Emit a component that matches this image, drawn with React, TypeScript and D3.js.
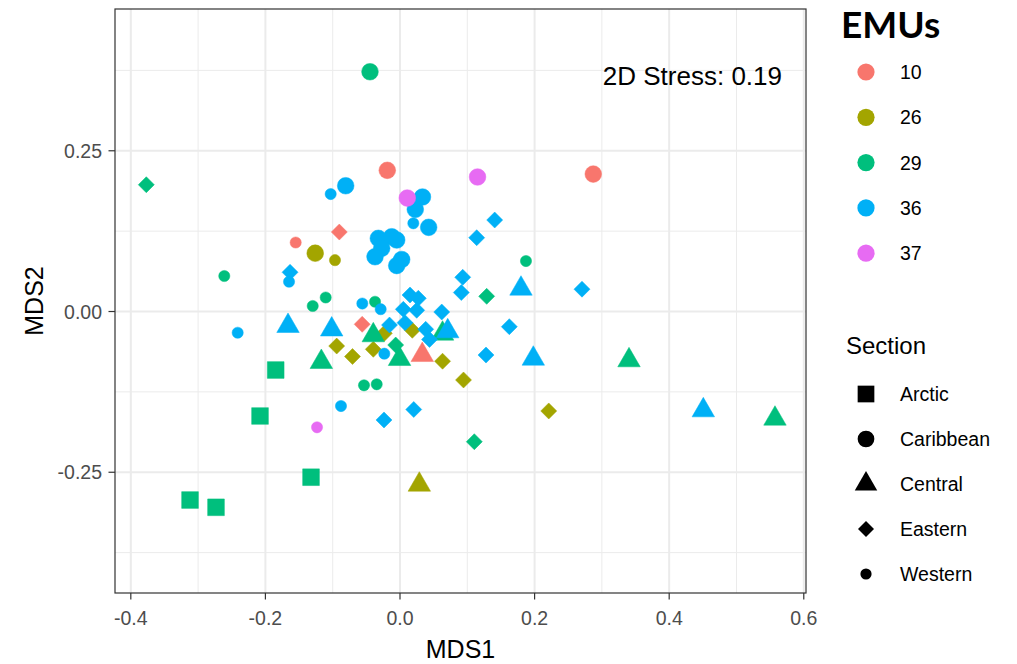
import React from "react";
import * as d3 from "d3";

// EMU levels and ggplot default hue colours
const emuLevels = ["10", "26", "29", "36", "37"];
const emuColors = ["#F8766D", "#A3A500", "#00BF7D", "#00B0F6", "#E76BF3"];
const sectionLevels = ["Arctic", "Caribbean", "Central", "Eastern", "Western"];

const xTicks = [-0.4, -0.2, 0.0, 0.2, 0.4, 0.6];
const yTicks = [-0.25, 0.0, 0.25];
const xMinor = [-0.3, -0.1, 0.1, 0.3, 0.5];
const yMinor = [-0.375, -0.125, 0.125, 0.375];

// NMDS scores
const mds1 = [
  // Arctic
  -0.1847, -0.208, -0.1322, -0.312, -0.2734,
  // Caribbean
  -0.0446, -0.0189, -0.0807, 0.0108, 0.0334, 0.0227, 0.0426, -0.126, 0.1152, 0.2872,
  -0.0322, -0.0123, -0.0049, -0.0272, -0.0371, 0.0025, -0.0049,
  // Central
  -0.1664, -0.1015, -0.0397, -0.1169, -0.0007, 0.0331, 0.0632, 0.0709, 0.1798, 0.1981,
  0.3403, 0.4507, 0.5572, 0.0287,
  // Eastern
  -0.377, -0.0902, -0.1634, 0.114, 0.1407, 0.0932, 0.0911, 0.1288, 0.2704, 0.0149,
  0.0272, 0.0049, 0.0248, 0.062, 0.0074, -0.0156, -0.0562, -0.0233, 0.0183, 0.0382,
  0.0438, 0.1624, -0.0941, -0.0706, -0.0397, -0.0064, 0.0632, 0.1278, 0.0944, 0.221,
  0.0204, -0.0238, 0.1104,
  // Western
  -0.103, 0.0198, -0.155, -0.0966, -0.2611, -0.1649, -0.1104, -0.1297, -0.056, -0.0371,
  -0.0287, -0.2412, -0.0233, -0.0535, -0.0346, -0.0877, -0.1233, 0.1872,
];

const mds2 = [
  -0.091, -0.1625, -0.2577, -0.2932, -0.3045,
  0.3729, 0.2196, 0.1956, 0.1765, 0.1781, 0.1589, 0.1309, 0.0907, 0.2092, 0.2138,
  0.1138, 0.1163, 0.1112, 0.0983, 0.0852, 0.0809, 0.0715,
  -0.0225, -0.028, -0.037, -0.0785, -0.0739, -0.0677, -0.0345, -0.0308, 0.0355, -0.0734,
  -0.0759, -0.1537, -0.1667, -0.2694,
  0.1972, 0.1236, 0.061, 0.1148, 0.1423, 0.0532, 0.0295, 0.0236, 0.0347, 0.0257,
  0.0205, 0.0034, 0.0019, -0.0008, -0.0174, -0.021, -0.0199, -0.0339, -0.0292, -0.0277,
  -0.0435, -0.0236, -0.0537, -0.07, -0.0588, -0.0521, -0.0773, -0.0677, -0.1065, -0.1547,
  -0.1524, -0.1687, -0.2025,
  0.1827, 0.1372, 0.1073, 0.0798, 0.0552, 0.0463, 0.0218, 0.0086, 0.0124, 0.0152,
  0.0036, -0.033, -0.0656, -0.1148, -0.1132, -0.147, -0.1801, 0.0785,
];

const emu = [
  "29", "29", "29", "29", "29",
  "29", "10", "36", "37", "36", "36", "36", "26", "37", "10",
  "36", "36", "36", "36", "36", "36", "36",
  "36", "36", "29", "29", "29", "10", "29", "36", "36", "36",
  "29", "36", "29", "26",
  "29", "10", "36", "36", "36", "36", "36", "29", "36", "36",
  "36", "36", "36", "36", "36", "36", "10", "26", "26", "36",
  "36", "36", "26", "26", "26", "29", "26", "36", "26", "26",
  "36", "36", "29",
  "36", "36", "10", "26", "29", "36", "29", "29", "36", "29",
  "36", "36", "36", "29", "29", "36", "37", "29",
];

const sectionCounts = [5, 17, 14, 33, 18];
const section = sectionLevels.flatMap((s, i) => Array(sectionCounts[i]).fill(s));

const W = 1017;
const H = 664;
const panel = { left: 115, right: 806, top: 9, bottom: 593 };

const font = "'Liberation Sans', Arial, sans-serif";

// plain hyphen for negatives, like R does
const locale = d3.formatLocale({
  decimal: ".",
  thousands: ",",
  grouping: [3],
  currency: ["", ""],
  minus: "-",
});

// marker path in the style of R's pch 15/16/17/18/20
function marker(shape: string, cx: number, cy: number) {
  const s = 8.35;
  const p = d3.path();
  if (shape === "Arctic") {
    p.rect(cx - s, cy - s, 2 * s, 2 * s);
  } else if (shape === "Caribbean") {
    p.arc(cx, cy, s, 0, 2 * Math.PI);
  } else if (shape === "Central") {
    const r = 1.555 * s;
    const xc = 1.3468 * s;
    const yc = 0.7776 * s;
    p.moveTo(cx, cy - r);
    p.lineTo(cx + xc, cy + yc);
    p.lineTo(cx - xc, cy + yc);
    p.closePath();
  } else if (shape === "Eastern") {
    const d = 8;
    p.moveTo(cx, cy - d);
    p.lineTo(cx + d, cy);
    p.lineTo(cx, cy + d);
    p.lineTo(cx - d, cy);
    p.closePath();
  } else {
    p.arc(cx, cy, 5.6, 0, 2 * Math.PI);
  }
  return p.toString();
}

export default function App() {
  const x = d3.scaleLinear().domain([-0.4235, 0.6033]).range([panel.left, panel.right]);
  const y = d3.scaleLinear().domain([-0.4378, 0.4705]).range([panel.bottom, panel.top]);
  const color = d3.scaleOrdinal<string, string>().domain(emuLevels).range(emuColors);

  const order = d3.range(mds1.length).sort(
    (a, b) => emuLevels.indexOf(emu[a]) - emuLevels.indexOf(emu[b]) || a - b
  );

  const grid = "#EBEBEB";
  const dark = "#333333";
  const tickCol = "#4D4D4D";

  return (
    <svg
      width={W}
      height={H}
      style={{ position: "absolute", left: 0, top: 0, background: "#fff" }}
      fontFamily={font}
    >
      <rect width={W} height={H} fill="#fff" />
      {/* minor grid */}
      {xMinor.map((v) => (
        <line key={"xm" + v} x1={x(v)} x2={x(v)} y1={panel.top} y2={panel.bottom} stroke={grid} strokeWidth={1} />
      ))}
      {yMinor.map((v) => (
        <line key={"ym" + v} y1={y(v)} y2={y(v)} x1={panel.left} x2={panel.right} stroke={grid} strokeWidth={1} />
      ))}
      {/* major grid */}
      {xTicks.map((v) => (
        <line key={"xg" + v} x1={x(v)} x2={x(v)} y1={panel.top} y2={panel.bottom} stroke={grid} strokeWidth={2} />
      ))}
      {yTicks.map((v) => (
        <line key={"yg" + v} y1={y(v)} y2={y(v)} x1={panel.left} x2={panel.right} stroke={grid} strokeWidth={2} />
      ))}

      {/* points */}
      {order.map((i) => (
        <path
          key={i}
          d={marker(section[i], x(mds1[i]), y(mds2[i]))}
          fill={color(emu[i])}
          stroke={color(emu[i])}
          strokeWidth={0.5}
        />
      ))}

      <text x={782} y={85} textAnchor="end" fontSize={26} fill="#000">
        2D Stress: 0.19
      </text>

      {/* panel border */}
      <rect
        x={panel.left}
        y={panel.top}
        width={panel.right - panel.left}
        height={panel.bottom - panel.top}
        fill="none"
        stroke={dark}
        strokeWidth={1.2}
      />

      {/* x axis */}
      {xTicks.map((v) => (
        <g key={"xt" + v}>
          <line x1={x(v)} x2={x(v)} y1={panel.bottom} y2={panel.bottom + 6.5} stroke={dark} strokeWidth={1.2} />
          <text x={x(v)} y={625} textAnchor="middle" fontSize={19.5} fill={tickCol}>
            {locale.format(".1f")(v)}
          </text>
        </g>
      ))}
      {/* y axis */}
      {yTicks.map((v) => (
        <g key={"yt" + v}>
          <line x1={panel.left - 6.5} x2={panel.left} y1={y(v)} y2={y(v)} stroke={dark} strokeWidth={1.2} />
          <text x={102} y={y(v) + 7} textAnchor="end" fontSize={19.5} fill={tickCol}>
            {locale.format(".2f")(v)}
          </text>
        </g>
      ))}

      <text x={(panel.left + panel.right) / 2} y={658} textAnchor="middle" fontSize={25} fill="#000">
        MDS1
      </text>
      <text
        transform={`translate(43, ${(panel.top + panel.bottom) / 2}) rotate(-90)`}
        textAnchor="middle"
        fontSize={25}
        fill="#000"
      >
        MDS2
      </text>

      {/* EMU legend */}
      <text x={841} y={38} fontSize={37} fontWeight={700} fontFamily="Lato, 'Open Sans', sans-serif" fill="#000">
        EMUs
      </text>
      {emuLevels.map((e, i) => (
        <g key={"le" + e}>
          <circle cx={866} cy={72 + i * 45.3} r={8.6} fill={emuColors[i]} />
          <text x={900} y={72 + i * 45.3 + 7} fontSize={19.5} fill="#000">
            {e}
          </text>
        </g>
      ))}

      {/* Section legend */}
      <text x={846} y={354} fontSize={24} fill="#000">
        Section
      </text>
      {sectionLevels.map((s, i) => (
        <g key={"ls" + s}>
          <path d={marker(s, 866, 394 + i * 45)} fill="#000" />
          <text x={900} y={394 + i * 45 + 7} fontSize={19.5} fill="#000">
            {s}
          </text>
        </g>
      ))}
    </svg>
  );
}
